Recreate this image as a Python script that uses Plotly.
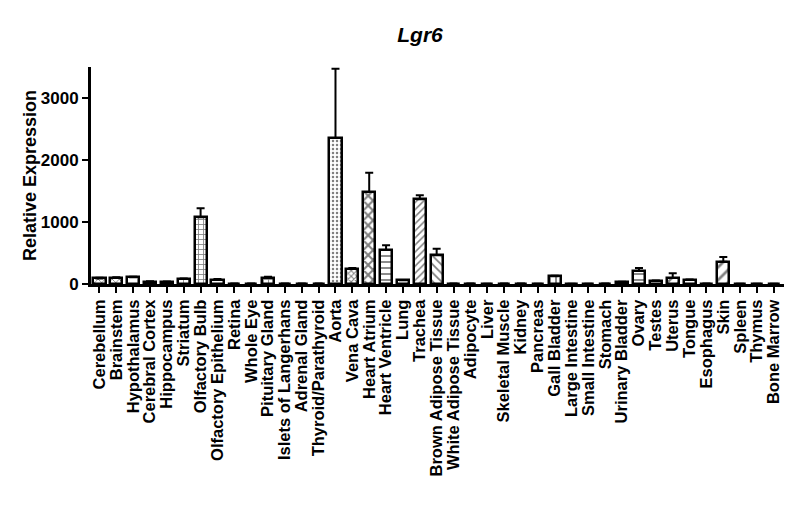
import plotly.graph_objects as go

# Vev og relativ ekspresjon (lest av fra figuren)
tissues = ['Cerebellum', 'Brainstem', 'Hypothalamus', 'Cerebral Cortex', 'Hippocampus', 'Striatum',
           'Olfactory Bulb', 'Olfactory Epithelium', 'Retina', 'Whole Eye', 'Pituitary Gland',
           'Islets of Langerhans', 'Adrenal Gland', 'Thyroid/Parathyroid', 'Aorta', 'Vena Cava',
           'Heart Atrium', 'Heart Ventricle', 'Lung', 'Trachea', 'Brown Adipose Tissue',
           'White Adipose Tissue', 'Adipocyte', 'Liver', 'Skeletal Muscle', 'Kidney', 'Pancreas',
           'Gall Bladder', 'Large Intestine', 'Small Intestine', 'Stomach', 'Urinary Bladder',
           'Ovary', 'Testes', 'Uterus', 'Tongue', 'Esophagus', 'Skin', 'Spleen', 'Thymus', 'Bone Marrow']

expression = [90, 100, 110, 40, 35, 80, 1075, 70, 5, 8, 100, 5, 5, 8, 2355, 247, 1484, 548, 60, 1366,
              462, 5, 5, 3, 8, 5, 2, 124, 2, 2, 5, 30, 210, 50, 97, 65, 5, 360, 3, 3, 3]
sem = [10, 8, 8, 5, 5, 8, 145, 10, 2, 2, 15, 2, 2, 2, 1118, 10, 312, 76, 5, 64, 108, 2, 2, 2, 2, 2,
       2, 8, 2, 2, 2, 5, 48, 8, 75, 8, 2, 75, 2, 2, 2]

y_ticks = [0, 1000, 2000, 3000]

# mønster for hver søyle
shapes = ['x', 'x', '', '', '', '+', '+', '', '', '', '+', '', '', '', '.', 'x', 'x', '-', '', '/',
          '\\', '', '', '', '', '', '', '|', '', '', '', '', '-', '', '/', '', '', '/', '', '', '']
sizes = [5, 5, 8, 8, 8, 5, 5, 8, 8, 8, 5, 8, 8, 8, 4, 4, 7, 6, 8, 5, 6, 8, 8, 8, 8, 8, 8, 6, 8, 8,
         8, 8, 6, 8, 8, 8, 8, 9, 8, 8, 8]
solid = [0.3] * len(tissues)
solid[15] = 0.45
solid[16] = 0.5

font = 'Liberation Sans, Arial, sans-serif'

# siden har 8 px marg rundt figuren, så alt er forskjøvet 8 px
fig = go.Figure()
fig.add_trace(go.Bar(
    x=list(range(len(tissues))), y=expression, width=0.72,
    marker=dict(color='white', line=dict(color='black', width=2.5),
                pattern=dict(shape=shapes, size=sizes, solidity=solid,
                             fgcolor='black', bgcolor='white', fillmode='overlay')),
    error_y=dict(type='data', symmetric=False, array=sem, arrayminus=[0] * len(sem),
                 color='black', thickness=2, width=4),
))

fig.update_layout(
    width=792, height=514, plot_bgcolor='white', paper_bgcolor='white',
    margin=dict(l=83, r=16, t=59, b=238), showlegend=False, bargap=0,
    font=dict(family=font, color='black', size=17, weight='bold'),
    title=dict(text='<i>Lgr6</i>', x=412 / 792, xanchor='center', y=1 - 27 / 514, yanchor='middle',
               font=dict(family=font, size=21, weight='bold', color='black')),
)
fig.update_xaxes(
    range=[-0.5, 40.6], tickmode='array', tickvals=list(range(len(tissues))), ticktext=tissues,
    tickangle=-90, ticks='outside', ticklen=6, tickwidth=2, tickcolor='black',
    showline=True, linecolor='black', linewidth=3, showgrid=False, zeroline=False,
    tickfont=dict(size=16.5, weight='bold'),
)
fig.update_yaxes(
    range=[0, 3500], tickvals=y_ticks, ticks='outside', ticklen=6, tickwidth=2, tickcolor='black',
    showline=True, linecolor='black', linewidth=3, showgrid=False, zeroline=False,
    tickfont=dict(size=17, weight='bold'),
    title=dict(text='Relative Expression', font=dict(size=18, weight='bold'), standoff=0),
)

fig.write_html('out.html')
